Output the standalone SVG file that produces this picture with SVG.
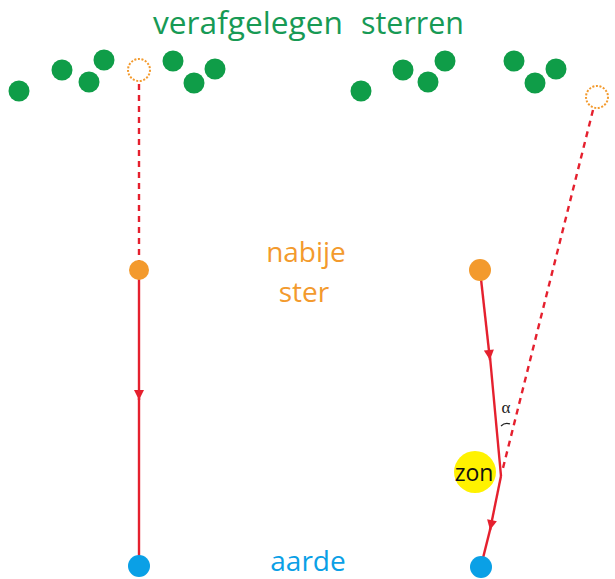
<svg xmlns="http://www.w3.org/2000/svg" width="615" height="579" viewBox="0 0 615 579">
<style>
.star{fill:#0f9d48}
.ring{fill:none;stroke:#f39a2d;stroke-width:2;stroke-dasharray:2 1.6}
.ray{fill:none;stroke:#e5202e;stroke-width:2.4}
.dash{stroke-dasharray:6 5}
.t{font-family:"Open Sans","Liberation Sans",sans-serif}
</style>
<defs>
<marker id="ah" viewBox="0 0 10 10" refX="10" refY="5" markerWidth="13" markerHeight="10" orient="auto" markerUnits="userSpaceOnUse">
<path d="M0,0 L10,5 L0,10 z" fill="#e5202e"/>
</marker>
</defs>
<rect width="615" height="579" fill="#fff"/>
<g id="title">
<text class="t" x="153" y="34" font-size="31" fill="#179a55" textLength="190" lengthAdjust="spacingAndGlyphs">verafgelegen</text>
<text class="t" x="361" y="34" font-size="31" fill="#179a55" textLength="103" lengthAdjust="spacingAndGlyphs">sterren</text>
</g>
<g id="stars-left">
<circle class="star" cx="19" cy="91" r="10.5"/>
<circle class="star" cx="62" cy="70" r="10.5"/>
<circle class="star" cx="89" cy="82" r="10.5"/>
<circle class="star" cx="104" cy="60" r="10.5"/>
<circle class="star" cx="173" cy="61" r="10.5"/>
<circle class="star" cx="194" cy="83" r="10.5"/>
<circle class="star" cx="215" cy="69" r="10.5"/>
<circle class="ring" cx="139" cy="70" r="11"/>
</g>
<g id="stars-right">
<circle class="star" cx="361" cy="91" r="10.5"/>
<circle class="star" cx="403" cy="70" r="10.5"/>
<circle class="star" cx="428" cy="82" r="10.5"/>
<circle class="star" cx="445" cy="61" r="10.5"/>
<circle class="star" cx="514" cy="61" r="10.5"/>
<circle class="star" cx="535" cy="83" r="10.5"/>
<circle class="star" cx="556" cy="69" r="10.5"/>
<circle class="ring" cx="597" cy="97" r="11"/>
</g>
<g id="connectors">
<line class="ray dash" x1="139" y1="84" x2="139" y2="262"/>
<line class="ray" x1="139" y1="270" x2="139" y2="400" marker-end="url(#ah)"/>
<line class="ray" x1="139" y1="398" x2="139" y2="560"/>
<line class="ray dash" x1="593" y1="110" x2="502" y2="472"/>
<line class="ray" x1="480" y1="270" x2="490" y2="360" marker-end="url(#ah)"/>
<line class="ray" x1="490" y1="357" x2="501" y2="476"/>
<line class="ray" x1="501" y1="476" x2="490" y2="530" marker-end="url(#ah)"/>
<line class="ray" x1="490.5" y1="528" x2="482" y2="562"/>
</g>
<g id="zon">
<circle cx="475" cy="472" r="21" fill="#fff200"/>
<text class="t" x="474" y="481" font-size="23" fill="#111" text-anchor="middle">zon</text>
</g>
<g id="alpha">
<text x="506" y="413" font-family="Liberation Serif,serif" font-size="17" fill="#222" text-anchor="middle">α</text>
<path d="M501,426 Q505,422 510,424" fill="none" stroke="#222" stroke-width="1.2"/>
</g>
<g id="nabije-ster">
<circle cx="139" cy="270" r="10" fill="#f39a2d"/>
<circle cx="480" cy="270" r="11" fill="#f39a2d"/>
<text class="t" x="306" y="262" font-size="28" fill="#f39a2d" text-anchor="middle">nabije</text>
<text class="t" x="304" y="302" font-size="28" fill="#f39a2d" text-anchor="middle">ster</text>
</g>
<g id="aarde">
<circle cx="139" cy="566" r="11" fill="#0aa0e6"/>
<circle cx="481" cy="567" r="11" fill="#0aa0e6"/>
<text class="t" x="308" y="571" font-size="28" fill="#0aa0e6" text-anchor="middle">aarde</text>
</g>
</svg>
